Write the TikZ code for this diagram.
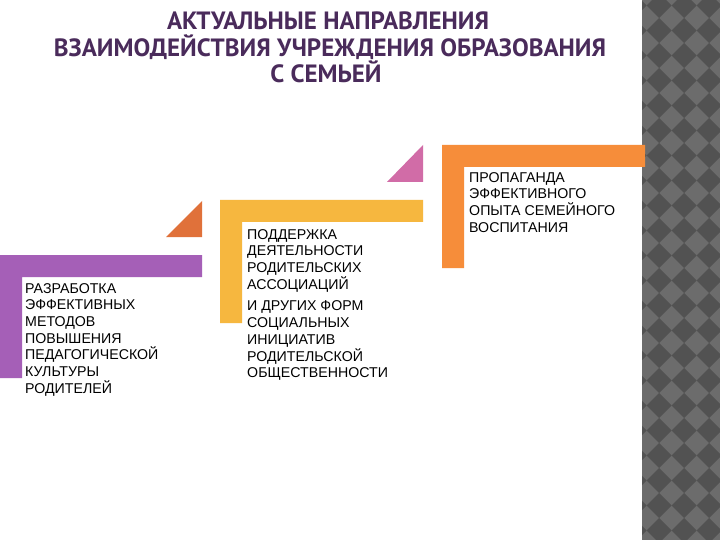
\documentclass[tikz,border=0pt]{standalone}
\usepackage{fontspec}
\setmainfont{Liberation Sans}
\newfontfamily\headfont{PT Sans}
\usetikzlibrary{positioning}

\definecolor{lilac}{HTML}{A55FB7}
\definecolor{rust}{HTML}{E0713A}
\definecolor{amber}{HTML}{F6B73F}
\definecolor{rose}{HTML}{D16CA7}
\definecolor{tangerine}{HTML}{F68D3A}
\definecolor{plum}{HTML}{4A2B5B}
\definecolor{stripelight}{HTML}{6C6C6C}
\definecolor{stripedark}{HTML}{525252}

\begin{document}
\begin{tikzpicture}[x=1pt,y=-1pt,
  steptext/.style={anchor=north west,inner sep=0pt,align=left,
                   font=\fontsize{14.2}{16.7}\selectfont},
  headline/.style={anchor=base,inner sep=0pt,text=plum,
                   font=\headfont\bfseries\fontsize{25}{26.5}\selectfont}]
\useasboundingbox[fill=white] (0,0) rectangle (720,540);

% stripe on the right
\fill[stripelight] (642,0) rectangle (720,540);
\begin{scope}
\clip (642,0) rectangle (720,540);
\foreach \i in {0,...,4}
  \foreach \j in {0,...,22}
    \fill[stripedark] (634+25*\i,-7+25*\j) -- ++(12.5,12.5) -- ++(-12.5,12.5)
                      -- ++(-12.5,-12.5) -- cycle;
\end{scope}

% title
\node[headline] (title1) at (328,30) {АКТУАЛЬНЫЕ НАПРАВЛЕНИЯ};
\node[headline] (title2) at (330,57) {ВЗАИМОДЕЙСТВИЯ УЧРЕЖДЕНИЯ ОБРАЗОВАНИЯ};
\node[headline] (title3) at (326,83) {С СЕМЬЕЙ};

% steps
\fill[lilac] (0,255) -- (202,255) -- (202,277) -- (22,277) -- (22,378) -- (0,378) -- cycle;
\fill[amber] (220,200) -- (423,200) -- (423,222) -- (242,222) -- (242,323) -- (220,323) -- cycle;
\fill[tangerine] (442,145) -- (645,145) -- (645,167) -- (464,167) -- (464,268) -- (442,268) -- cycle;

\fill[rust] (166,237) -- (202,237) -- (202,201) -- cycle;
\fill[rose] (387,182) -- (423,182) -- (423,145) -- cycle;

\node[steptext] (methods) at (25,283) {РАЗРАБОТКА\\ЭФФЕКТИВНЫХ\\МЕТОДОВ\\ПОВЫШЕНИЯ\\ПЕДАГОГИЧЕСКОЙ\\КУЛЬТУРЫ\\РОДИТЕЛЕЙ};
\node[steptext] (support) at (247,229) {ПОДДЕРЖКА\\ДЕЯТЕЛЬНОСТИ\\РОДИТЕЛЬСКИХ\\АССОЦИАЦИЙ\\[5pt]И ДРУГИХ ФОРМ\\СОЦИАЛЬНЫХ\\ИНИЦИАТИВ\\РОДИТЕЛЬСКОЙ\\ОБЩЕСТВЕННОСТИ};
\node[steptext] (promo) at (469,172) {ПРОПАГАНДА\\ЭФФЕКТИВНОГО\\ОПЫТА СЕМЕЙНОГО\\ВОСПИТАНИЯ};
\end{tikzpicture}
\end{document}
